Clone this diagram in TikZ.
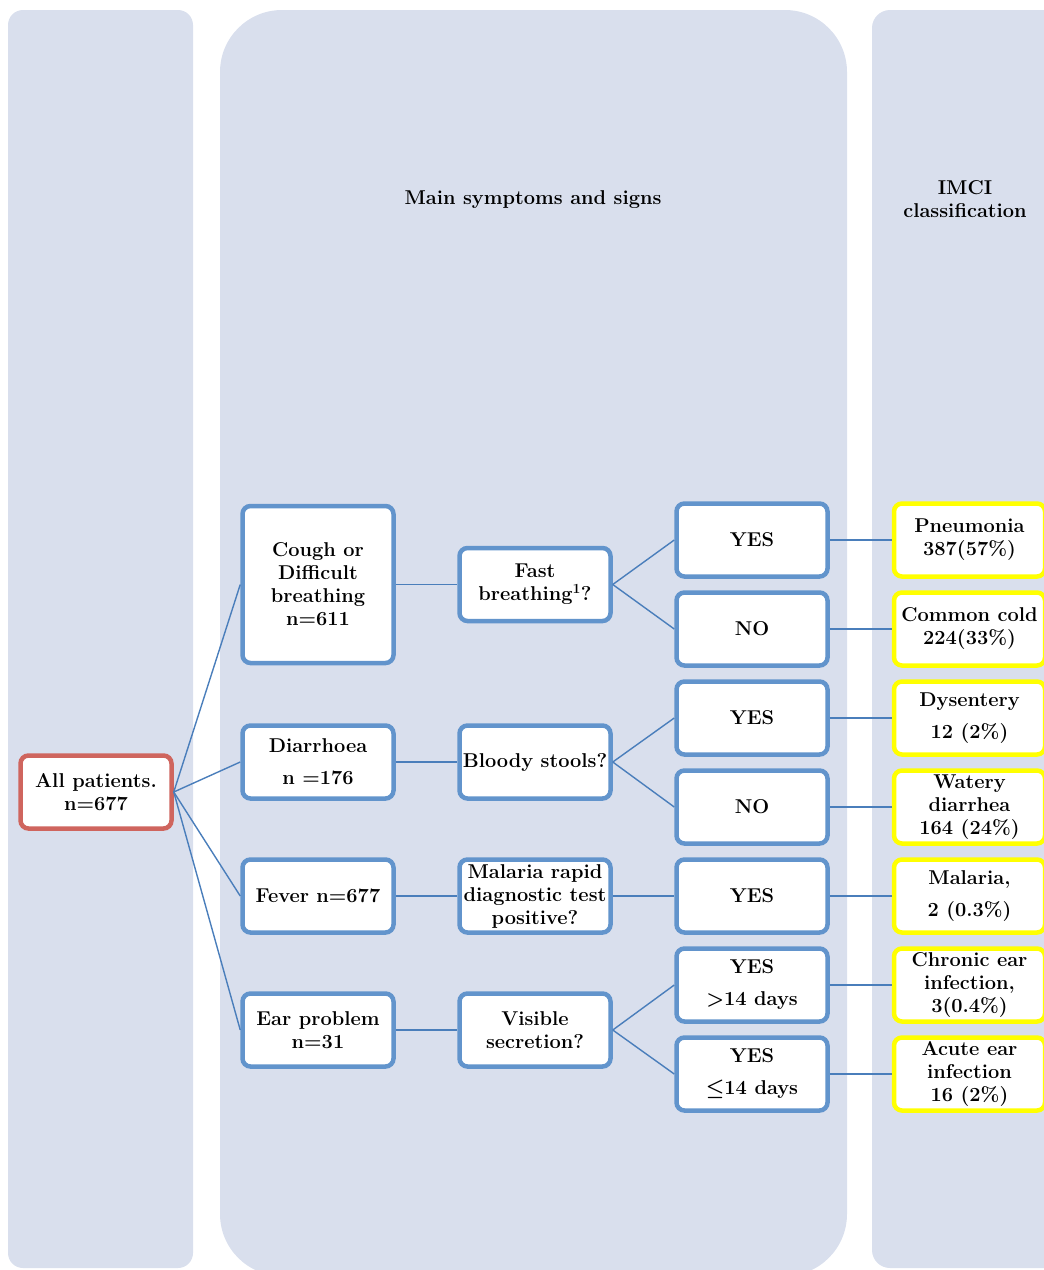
\documentclass[tikz,border=0pt]{standalone}
\usepackage{bm}
\usepackage{tikz}
\usetikzlibrary{calc,shapes,positioning}

\definecolor{paneback}{RGB}{217,223,237}
\definecolor{boxblue}{RGB}{98,148,204}
\definecolor{boxred}{RGB}{207,101,94}
\definecolor{boxyellow}{RGB}{255,255,0}
\definecolor{lineblue}{RGB}{74,126,187}
\newcommand{\diagfont}{\fontsize{20}{23}\selectfont\bfseries}

\begin{document}
\begin{tikzpicture}[x=1pt,y=-1pt]
    \tikzstyle{panel} = [fill=paneback, draw=none]
    \tikzstyle{bnode} = [draw=boxblue, fill=white, line width=4.5pt, rectangle, rounded corners=8pt, inner sep=1pt, minimum width=151pt, minimum height=73pt, align=center, font=\diagfont]
    \tikzstyle{rnode} = [bnode, draw=boxred]
    \tikzstyle{ynode} = [bnode, draw=boxyellow]
    \tikzstyle{link} = [draw=lineblue, line width=1.4pt]

    \useasboundingbox (0,0) rectangle (1044,1270);
    \clip (0,0) rectangle (1044,1270);

    % background columns
    \fill[panel, rounded corners=15pt] (8,10) rectangle (193,1268);
    \fill[panel, rounded corners=62pt] (220,10) rectangle (847,1276);
    \fill[panel, rounded corners=18pt] (872,10) rectangle (1070,1268);

    \node[font=\diagfont] (head) at (533,200) {Main symptoms and signs};
    \node[font=\diagfont, align=center] (imci) at (965,199) {IMCI\\ classification};

    \node[rnode] (all) at (96,792) {All patients.\\ n=677};

    \node[bnode, minimum height=157pt] (cough) at (318,584.5) {Cough or\\ Difficult\\ breathing\\ n=611};
    \node[bnode] (diar) at (318,762) {Diarrhoea\\[9pt] n =176};
    \node[bnode] (fever) at (318,896) {Fever n=677};
    \node[bnode] (ear) at (318,1030) {Ear problem\\ n=31};

    \node[bnode] (fast) at (535,584.5) {Fast\\ breathing\textsuperscript{1}?};
    \node[bnode] (blood) at (535,762) {Bloody stools?};
    \node[bnode] (rdt) at (535,896) {Malaria rapid\\ diagnostic test\\ positive?};
    \node[bnode] (secr) at (535,1030) {Visible\\ secretion?};

    \node[bnode] (fyes) at (752,540) {YES};
    \node[bnode] (fno) at (752,629) {NO};
    \node[bnode] (byes) at (752,718) {YES};
    \node[bnode] (bno) at (752,807) {NO};
    \node[bnode] (ryes) at (752,896) {YES};
    \node[bnode] (slong) at (752,985) {YES\\[9pt] >14 days};
    \node[bnode] (sshort) at (752,1074) {YES\\[9pt] $\bm{\leq}$14 days};

    \node[ynode] (pneu) at (969.5,540) {Pneumonia\\ 387(57\%)};
    \node[ynode] (cold) at (969.5,629) {Common cold\\ 224(33\%)};
    \node[ynode] (dys) at (969.5,718) {Dysentery\\[9pt] 12 (2\%)};
    \node[ynode] (water) at (969.5,807) {Watery\\ diarrhea\\ 164 (24\%)};
    \node[ynode] (mal) at (969.5,896) {Malaria,\\[9pt] 2 (0.3\%)};
    \node[ynode] (chron) at (969.5,985) {Chronic ear\\ infection,\\ 3(0.4\%)};
    \node[ynode] (acute) at (969.5,1074) {Acute ear\\ infection\\ 16 (2\%)};

    \foreach \s in {cough,diar,fever,ear}
        \draw[link] (all.east) -- (\s.west);

    \draw[link] (cough.east) -- (fast.west);
    \draw[link] (diar.east) -- (blood.west);
    \draw[link] (fever.east) -- (rdt.west);
    \draw[link] (ear.east) -- (secr.west);

    \draw[link] (fast.east) -- (fyes.west);
    \draw[link] (fast.east) -- (fno.west);
    \draw[link] (blood.east) -- (byes.west);
    \draw[link] (blood.east) -- (bno.west);
    \draw[link] (rdt.east) -- (ryes.west);
    \draw[link] (secr.east) -- (slong.west);
    \draw[link] (secr.east) -- (sshort.west);

    \draw[link] (fyes.east) -- (pneu.west);
    \draw[link] (fno.east) -- (cold.west);
    \draw[link] (byes.east) -- (dys.west);
    \draw[link] (bno.east) -- (water.west);
    \draw[link] (ryes.east) -- (mal.west);
    \draw[link] (slong.east) -- (chron.west);
    \draw[link] (sshort.east) -- (acute.west);
\end{tikzpicture}
\end{document}
